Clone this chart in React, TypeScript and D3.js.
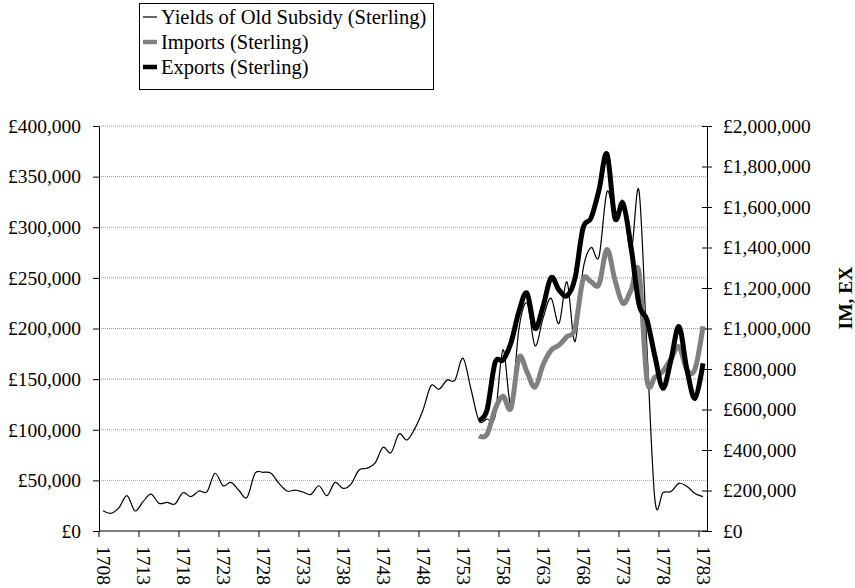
import { useRef, useEffect } from "react";
import * as d3 from "d3";

// categories 1708..1783
const years = d3.range(1708, 1784);
const tradeYears = d3.range(1755, 1784);

const yields = [
  20000, 17500, 23000, 35000, 19800, 29000, 36500, 27300, 28300, 26700,
  37800, 33900, 39500, 38800, 57000, 44700, 48000, 40000, 33200, 57000,
  58000, 57000, 47000, 39500, 40400, 38500, 36200, 44700, 34900, 48000,
  42100, 46400, 60200, 62000, 67000, 82600, 77400, 95800, 89900, 101400,
  119500, 143500, 140000, 149000, 149000, 170600, 140000, 109000, 110600, 113000,
  179000, 125000, 200000, 225000, 183000, 210000, 230000, 205000, 246000, 187000,
  258000, 280000, 271000, 335000, 309000, 326000, 275000, 336000, 180000, 30000,
  38000, 39000, 47000, 44000, 37000, 34000,
];

const imports = [
  469000, 477000, 600000, 665000, 606000, 857000, 785000, 710000, 820000, 892000,
  918000, 960000, 1000000, 1240000, 1231000, 1218000, 1390000, 1239000, 1124000, 1190000,
  1280000, 745000, 760000, 790000, 850000, 910000, 795000, 800000, 1010000,
];

const exportsData = [
  548000, 597000, 830000, 845000, 930000, 1085000, 1174000, 1001000, 1108000, 1251000,
  1190000, 1162000, 1248000, 1495000, 1545000, 1684000, 1862000, 1544000, 1618000, 1404000,
  1120000, 1042000, 861000, 705000, 845000, 1009000, 795000, 655000, 828000,
];

const leftTicks = [0, 50000, 100000, 150000, 200000, 250000, 300000, 350000, 400000];
const rightTicks = [0, 200000, 400000, 600000, 800000, 1000000, 1200000, 1400000, 1600000, 1800000, 2000000];

const legendItems = [
  { label: "Yields of Old Subsidy (Sterling)", color: "#000", w: 1.2 },
  { label: "Imports (Sterling)", color: "#808080", w: 4.5 },
  { label: "Exports (Sterling)", color: "#000", w: 4.5 },
];

const FONT = "'Liberation Serif', 'Times New Roman', serif";

function Chart() {
  const ref = useRef(null);

  useEffect(() => {
    const svg = d3.select(ref.current);
    svg.selectAll("*").remove();

    const left = 99, right = 707, top = 126, bottom = 531;

    const x = d3.scaleBand().domain(years).range([left, right]);
    const cx = (yr) => x(yr) + x.bandwidth() / 2;
    const yL = d3.scaleLinear().domain([0, 400000]).range([bottom, top]);
    const yR = d3.scaleLinear().domain([0, 2000000]).range([bottom, top]);
    const money = (d) => "£" + d3.format(",")(d);

    // gridlines
    svg
      .append("g")
      .selectAll("line")
      .data(leftTicks.slice(1))
      .join("line")
      .attr("x1", left)
      .attr("x2", right)
      .attr("y1", (d) => yL(d))
      .attr("y2", (d) => yL(d))
      .attr("stroke", "#999")
      .attr("stroke-dasharray", "1 1");

    // left axis
    const gl = svg
      .append("g")
      .attr("transform", `translate(${left},0)`)
      .call(d3.axisLeft(yL).tickValues(leftTicks).tickFormat(money).tickSize(6).tickSizeOuter(0).tickPadding(12));

    // right axis
    const gr = svg
      .append("g")
      .attr("transform", `translate(${right},0)`)
      .call(d3.axisRight(yR).tickValues(rightTicks).tickFormat(money).tickSize(5).tickSizeOuter(0).tickPadding(11));
    gr.selectAll(".tick line").attr("x1", -5);

    [gl, gr].forEach((g) => {
      g.selectAll("text").attr("font-family", FONT).attr("font-size", 19.5).attr("fill", "#000");
      g.selectAll("line, path").attr("stroke", "#000");
    });

    // bottom axis
    const gb = svg.append("g");
    gb.append("line")
      .attr("x1", left)
      .attr("x2", right)
      .attr("y1", bottom)
      .attr("y2", bottom)
      .attr("stroke", "#000");
    const labelled = years.filter((d) => (d - 1708) % 5 === 0);
    gb.selectAll(".tk")
      .data(labelled)
      .join("line")
      .attr("x1", (d) => x(d))
      .attr("x2", (d) => x(d))
      .attr("y1", bottom)
      .attr("y2", bottom + 6)
      .attr("stroke", "#000");
    gb.selectAll("text")
      .data(labelled)
      .join("text")
      .attr("transform", (d) => `translate(${cx(d)},${bottom + 15}) rotate(90)`)
      .attr("dy", "0.33em")
      .attr("font-family", FONT)
      .attr("font-size", 19.5)
      .text((d) => d);

    // series
    const line = d3
      .line()
      .curve(d3.curveCatmullRom.alpha(0))
      .x((d) => cx(d[0]));

    svg
      .append("path")
      .datum(years.map((yr, i) => [yr, yields[i]]))
      .attr("fill", "none")
      .attr("stroke", "#000")
      .attr("stroke-width", 1.2)
      .attr("d", line.y((d) => yL(d[1])));

    svg
      .append("path")
      .datum(tradeYears.map((yr, i) => [yr, imports[i]]))
      .attr("fill", "none")
      .attr("stroke", "#808080")
      .attr("stroke-width", 5)
      .attr("stroke-linejoin", "round")
      .attr("d", line.y((d) => yR(d[1])));

    svg
      .append("path")
      .datum(tradeYears.map((yr, i) => [yr, exportsData[i]]))
      .attr("fill", "none")
      .attr("stroke", "#000")
      .attr("stroke-width", 5)
      .attr("stroke-linejoin", "round")
      .attr("d", line.y((d) => yR(d[1])));

    // right axis title
    svg
      .append("text")
      .attr("transform", `translate(852,298) rotate(-90)`)
      .attr("text-anchor", "middle")
      .attr("font-family", FONT)
      .attr("font-weight", "bold")
      .attr("font-size", 19.5)
      .text("IM, EX");

    // legend
    const lg = svg.append("g");
    lg.append("rect")
      .attr("x", 139.5)
      .attr("y", 3.5)
      .attr("width", 294)
      .attr("height", 86)
      .attr("fill", "#fff")
      .attr("stroke", "#000");
    legendItems.forEach((it, i) => {
      const yy = 17 + i * 25;
      lg.append("line")
        .attr("x1", 143)
        .attr("x2", 157)
        .attr("y1", yy)
        .attr("y2", yy)
        .attr("stroke", it.color)
        .attr("stroke-width", it.w);
      lg.append("text")
        .attr("x", 161)
        .attr("y", yy)
        .attr("dy", "0.35em")
        .attr("font-family", FONT)
        .attr("font-size", 20.5)
        .text(it.label);
    });
  }, []);

  return <svg ref={ref} width={855} height={588} style={{ position: "absolute", left: 0, top: 0 }}></svg>;
}

export default function App() {
  return <Chart />;
}
